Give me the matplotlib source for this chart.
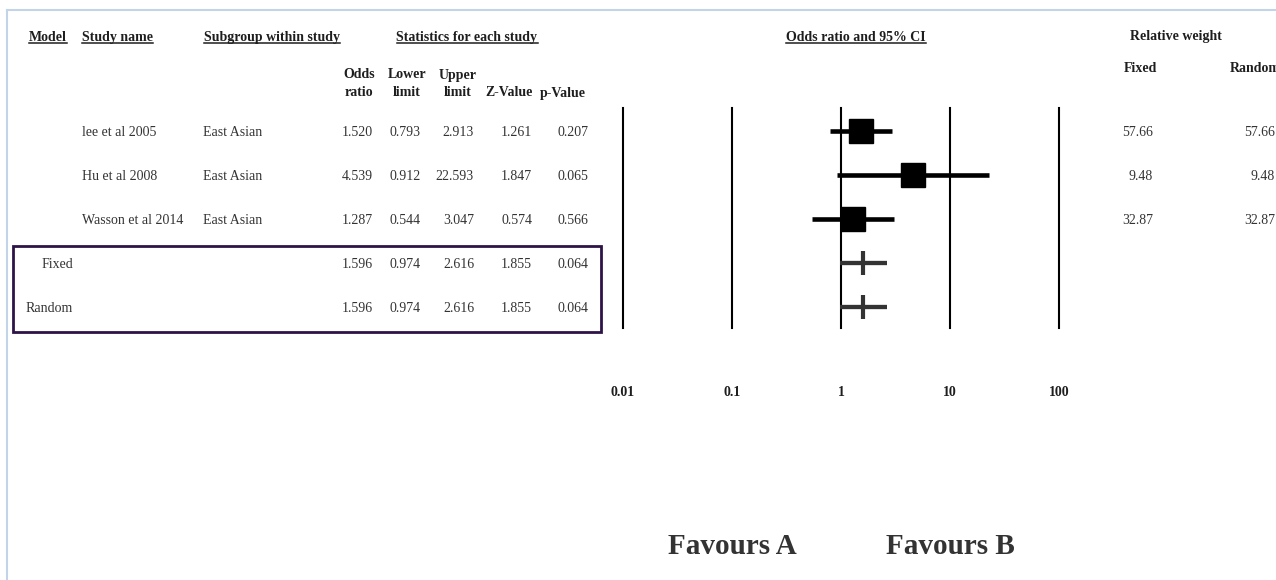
import matplotlib.pyplot as plt
from matplotlib.patches import Rectangle
from matplotlib.transforms import blended_transform_factory

plt.rcParams['font.family'] = ['Liberation Serif', 'DejaVu Serif']

# study rows
studies = ['lee et al 2005', 'Hu et al 2008', 'Wasson et al 2014']
subgroups = ['East Asian', 'East Asian', 'East Asian']
odds_ratio = [1.520, 4.539, 1.287]
lower = [0.793, 0.912, 0.544]
upper = [2.913, 22.593, 3.047]
z_value = [1.261, 1.847, 0.574]
p_value = [0.207, 0.065, 0.566]
weight_fixed = [57.66, 9.48, 32.87]
weight_random = [57.66, 9.48, 32.87]

# pooled rows
models = ['Fixed', 'Random']
pooled_or = [1.596, 1.596]
pooled_lower = [0.974, 0.974]
pooled_upper = [2.616, 2.616]
pooled_z = [1.855, 1.855]
pooled_p = [0.064, 0.064]

ticks = [0.01, 0.1, 1, 10, 100]
tick_labels = ['0.01', '0.1', '1', '10', '100']

W, H = 1276, 580
HEAD = '#1e1e1e'
BODY = '#333333'
ROW_PX = 44          # pixel height of one row
BASE = 4.5 / ROW_PX  # baseline sits a little below the row centre

fig = plt.figure(figsize=(W / 100, H / 100), dpi=100)

# full-size canvas in pixel units for the table layout
canvas = fig.add_axes([0, 0, 1, 1])
canvas.set_xlim(0, W)
canvas.set_ylim(H, 0)
canvas.axis('off')

# forest plot panel, rows indexed 0..4 top to bottom
ax = fig.add_axes([623 / W, 1 - 328 / H, (1059 - 623) / W, (328 - 108) / H])
ax.set_xscale('log')
ax.set_xlim(0.01, 100)
ax.set_ylim(4 + 21 / ROW_PX, -23 / ROW_PX)
for s in ax.spines.values():
    s.set_visible(False)
ax.set_yticks([])
ax.set_xticks(ticks)
ax.set_xticklabels(tick_labels, fontsize=10, fontweight='bold', color=HEAD)
ax.xaxis.set_minor_locator(plt.NullLocator())
ax.tick_params(axis='x', length=0, pad=42)
ax.patch.set_alpha(0)

for t in ticks:
    ax.axvline(t, color='black', lw=1.5, clip_on=False, zorder=1)

n = len(studies)
rows = list(range(n))
for i in rows:
    ax.plot([lower[i], upper[i]], [i, i], color='black', lw=3.3,
            solid_capstyle='butt', zorder=2)
    ax.plot(odds_ratio[i], i, marker='s', ms=17.5, color='black', zorder=3)

for j in range(len(models)):
    r = n + j
    ax.plot([pooled_lower[j], pooled_upper[j]], [r, r], color=BODY, lw=3.1,
            solid_capstyle='butt', zorder=2)
    ax.plot(pooled_or[j], r, marker='|', ms=17.5, mew=3, color=BODY, zorder=3)

row_tf = blended_transform_factory(canvas.transData, ax.transData)
fs = 10

# table headers
headers = [
    ('Model', 29, 'left'),
    ('Study name', 82, 'left'),
    ('Subgroup within study', 204, 'left'),
    ('Statistics for each study', 467, 'center'),
    ('Odds ratio and 95% CI', 856, 'center'),
]
head_texts = []
for label, x, ha in headers:
    head_texts.append(canvas.text(x, 41, label, ha=ha, va='baseline', fontsize=fs,
                                  fontweight='bold', color=HEAD))

canvas.text(1176, 40, 'Relative weight', ha='center', va='baseline', fontsize=fs,
            fontweight='bold', color=HEAD)
canvas.text(1140, 72, 'Fixed', ha='center', va='baseline', fontsize=fs,
            fontweight='bold', color=HEAD)
canvas.text(1230, 72, 'Random', ha='left', va='baseline', fontsize=fs,
            fontweight='bold', color=HEAD)

stat_heads = [('Odds', 'ratio', 359), ('Lower', 'limit', 407), ('Upper', 'limit', 458)]
for top, bottom, x in stat_heads:
    canvas.text(x, 78.5, top, ha='center', va='baseline', fontsize=fs,
                fontweight='bold', color=HEAD)
    canvas.text(x, 96.5, bottom, ha='center', va='baseline', fontsize=fs,
                fontweight='bold', color=HEAD)
canvas.text(509, 96.5, 'Z-Value', ha='center', va='baseline', fontsize=fs,
            fontweight='bold', color=HEAD)
canvas.text(563, 96.5, 'p-Value', ha='center', va='baseline', fontsize=fs,
            fontweight='bold', color=HEAD)

# numeric columns, right aligned
col_right = [373, 421, 474, 532, 588]
for i in rows:
    y = i + BASE
    ax.text(82, y, studies[i], transform=row_tf, ha='left', va='baseline',
            fontsize=fs, color=BODY)
    ax.text(203, y, subgroups[i], transform=row_tf, ha='left', va='baseline',
            fontsize=fs, color=BODY)
    vals = [odds_ratio[i], lower[i], upper[i], z_value[i], p_value[i]]
    for x, v in zip(col_right, vals):
        ax.text(x, y, f'{v:.3f}', transform=row_tf, ha='right', va='baseline',
                fontsize=fs, color=BODY)
    ax.text(1153, y, f'{weight_fixed[i]:.2f}', transform=row_tf, ha='right',
            va='baseline', fontsize=fs, color=BODY)
    ax.text(1275, y, f'{weight_random[i]:.2f}', transform=row_tf, ha='right',
            va='baseline', fontsize=fs, color=BODY)

for j in range(len(models)):
    y = n + j + BASE
    ax.text(73, y, models[j], transform=row_tf, ha='right', va='baseline',
            fontsize=fs, color=BODY)
    vals = [pooled_or[j], pooled_lower[j], pooled_upper[j], pooled_z[j], pooled_p[j]]
    for x, v in zip(col_right, vals):
        ax.text(x, y, f'{v:.3f}', transform=row_tf, ha='right', va='baseline',
                fontsize=fs, color=BODY)

# box around the pooled rows
canvas.add_patch(Rectangle((12.7, 246), 601 - 12.7, 331.7 - 246, fill=False,
                           ec='#2e1446', lw=2, zorder=4))

# favours labels under the axis
fav_tf = blended_transform_factory(ax.transData, canvas.transData)
ax.text(0.1, 554, 'Favours A', transform=fav_tf, ha='center', va='baseline',
        fontsize=21, fontweight='bold', color=BODY)
ax.text(10, 554, 'Favours B', transform=fav_tf, ha='center', va='baseline',
        fontsize=21, fontweight='bold', color=BODY)

# page frame
canvas.plot([7, W], [10, 10], color='#c3d4e8', lw=1.5)
canvas.plot([7, 7], [10, H], color='#c3d4e8', lw=1.5)

# underline the column headers
fig.canvas.draw()
renderer = fig.canvas.get_renderer()
inv = canvas.transData.inverted()
for t in head_texts:
    bb = t.get_window_extent(renderer)
    (x0, y0), (x1, _) = inv.transform([(bb.x0, bb.y0 + 1), (bb.x1, bb.y0)])
    canvas.plot([x0, x1], [y0, y0], color=HEAD, lw=1.1)

fig.savefig('out.png', dpi=100)
